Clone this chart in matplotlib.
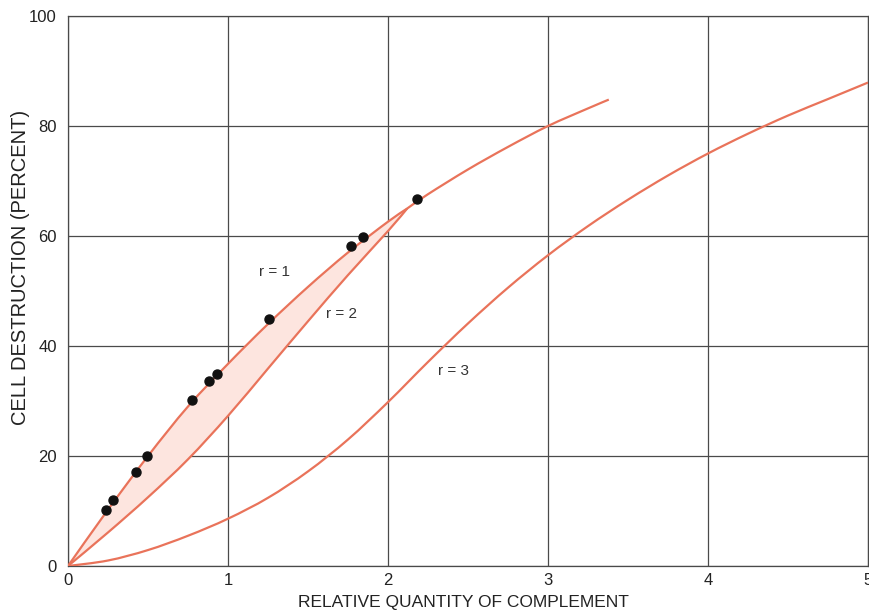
import matplotlib
matplotlib.use("Agg")
import matplotlib.pyplot as plt
from matplotlib.path import Path
from matplotlib.patches import PathPatch
import numpy as np

# Dose-response curves: fraction of cells destroyed vs. complement quantity
x_r1 = [0, 0.25, 0.5, 0.75, 1.0, 1.25, 1.5, 1.75, 2.0, 2.12, 2.25, 2.5, 2.75, 3.0, 3.25, 3.38]
y_r1 = [0, 10.25, 20.0, 29.0, 36.75, 44.0, 50.75, 57.0, 62.6, 65.0, 67.6, 72.1, 76.2, 80.0, 83.2, 84.8]

x_r2 = [0, 0.25, 0.5, 0.75, 1.0, 1.25, 1.5, 1.75, 2.0, 2.12]
y_r2 = [0, 6.1, 12.5, 19.4, 27.3, 35.9, 44.5, 52.9, 60.9, 65.0]

x_r3 = [0, 0.25, 0.5, 0.75, 1.0, 1.25, 1.5, 1.75, 2.0, 2.25, 2.5, 2.75, 3.0,
        3.25, 3.5, 3.75, 4.0, 4.25, 4.5, 4.75, 5.0]
y_r3 = [0, 1.0, 2.9, 5.5, 8.6, 12.4, 17.2, 23.0, 29.8, 37.1, 44.1, 50.6, 56.5,
        61.8, 66.6, 71.0, 75.0, 78.6, 81.9, 84.9, 87.9]

# Measured points
obs_x = [0.236, 0.283, 0.425, 0.496, 0.777, 0.881, 0.929, 1.254, 1.767, 1.842, 2.179]
obs_y = [10.1, 12.0, 17.1, 20.0, 30.2, 33.6, 35.0, 44.9, 58.1, 59.8, 66.8]

curve_labels = ["r = 1", "r = 2", "r = 3"]
label_pos = [(1.29, 53.5), (1.71, 45.8), (2.41, 35.5)]

xticks = [0, 1, 2, 3, 4, 5]
yticks = [0, 20, 40, 60, 80, 100]

plt.rcParams["font.family"] = ["Liberation Sans", "DejaVu Sans"]

line_color = "#e9735a"
fill_color = "#fde5df"
grid_color = "#4a4a4a"
text_color = "#222222"


def bezier_segments(xs, ys):
    """Cubic Bezier pieces of a smooth (Catmull-Rom) curve through the points."""
    p = np.column_stack([xs, ys]).astype(float)
    n = len(p)
    segs = []
    for i in range(n - 1):
        p0 = p[max(i - 1, 0)]
        p1 = p[i]
        p2 = p[i + 1]
        p3 = p[min(i + 2, n - 1)]
        c1 = p1 + (p2 - p0) / 6.0
        c2 = p2 - (p3 - p1) / 6.0
        segs.append((p1, c1, c2, p2))
    return segs


def segs_to_path(segs, close=False):
    verts = [segs[0][0]]
    codes = [Path.MOVETO]
    for _, c1, c2, e in segs:
        verts += [c1, c2, e]
        codes += [Path.CURVE4] * 3
    if close:
        verts.append(segs[0][0])
        codes.append(Path.CLOSEPOLY)
    return Path(np.array(verts), codes)


fig = plt.figure(figsize=(8.69, 6.12), dpi=100)
ax = fig.add_axes([68 / 869, 46 / 612, 800 / 869, 550 / 612])

seg1 = bezier_segments(x_r1, y_r1)
seg2 = bezier_segments(x_r2, y_r2)
seg3 = bezier_segments(x_r3, y_r3)

# Shaded band between r = 1 and r = 2, up to where they join
n_band = len(x_r2) - 1
upper_rev = [(e, c2, c1, s) for (s, c1, c2, e) in reversed(seg1[:n_band])]
band = PathPatch(segs_to_path(seg2 + upper_rev, close=True),
                 facecolor=fill_color, edgecolor="none", zorder=1)
ax.add_patch(band)

for segs in (seg1, seg2, seg3):
    ax.add_patch(PathPatch(segs_to_path(segs), facecolor="none",
                           edgecolor=line_color, lw=1.6, zorder=3))

ax.plot(obs_x, obs_y, "o", color="#111111", ms=6.5, zorder=4)

for lab, (lx, ly) in zip(curve_labels, label_pos):
    ax.text(lx, ly, lab, fontsize=11, color="#333333", ha="center", va="center", zorder=5)

ax.set_xlim(0, 5)
ax.set_ylim(0, 100)
ax.set_xticks(xticks)
ax.set_yticks(yticks)
ax.set_xticklabels([str(t) for t in xticks])
ax.set_yticklabels([str(t) for t in yticks])
ax.grid(True, color=grid_color, lw=0.9, zorder=0)
ax.set_axisbelow(True)
for s in ax.spines.values():
    s.set_color(grid_color)
    s.set_linewidth(0.9)
ax.tick_params(length=0, labelsize=12, colors=text_color)
ax.tick_params(axis="y", pad=8)
ax.tick_params(axis="x", pad=5)

ax.set_xlabel("RELATIVE QUANTITY OF COMPLEMENT", fontsize=12.5, color=text_color)
ax.set_ylabel("CELL DESTRUCTION (PERCENT)", fontsize=14.5, color=text_color, labelpad=-0.5)
ax.xaxis.set_label_coords(0.494, -0.052, transform=ax.transAxes)
ax.yaxis.label.set_y(0.542)

fig.savefig("out.png", dpi=100)
